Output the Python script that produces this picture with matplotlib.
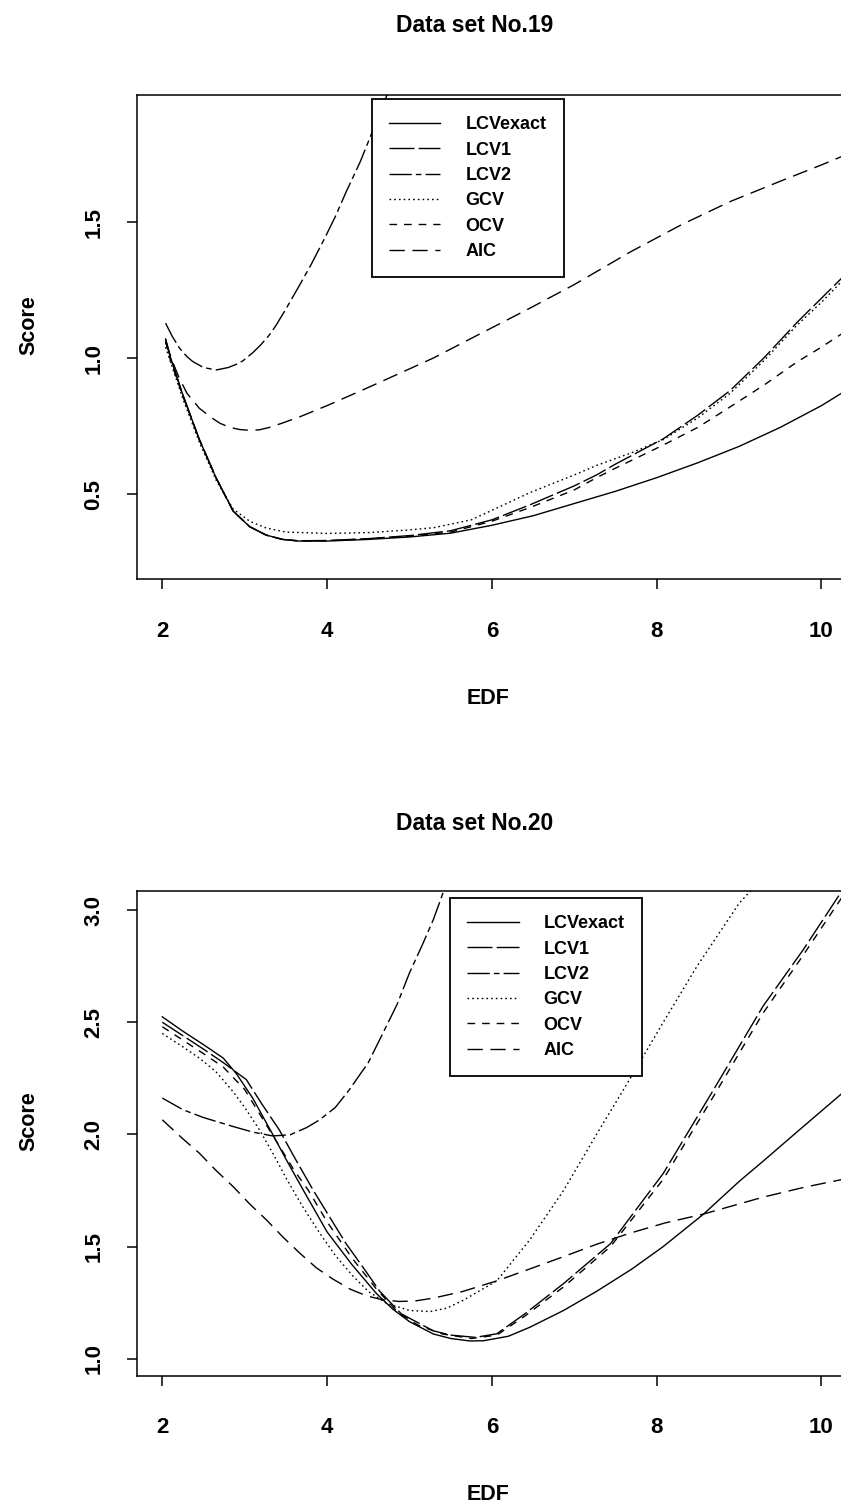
import matplotlib
matplotlib.use("Agg")
import matplotlib.pyplot as plt

plt.rcParams['font.family'] = ['Liberation Sans', 'DejaVu Sans']
plt.rcParams['font.weight'] = 'bold'
plt.rcParams['lines.scale_dashes'] = False

# ---- data set No.19 ----
x19_exact = [2.04, 2.1, 2.25, 2.45, 2.655, 2.86, 3.06, 3.26, 3.46, 3.65, 4.0, 4.5, 5.0, 5.5, 6.0,
             6.5, 7.0, 7.5, 8.0, 8.5, 9.0, 9.5, 10.0, 10.4]
y19_exact = [1.07, 1.0, 0.864, 0.70, 0.558, 0.437, 0.38, 0.349, 0.333, 0.327, 0.327, 0.333, 0.342,
             0.356, 0.385, 0.42, 0.465, 0.51, 0.56, 0.615, 0.675, 0.745, 0.825, 0.90]
x19_lcv1 = [2.04, 2.1, 2.25, 2.45, 2.655, 2.86, 3.06, 3.26, 3.46, 3.65, 4.0, 4.5, 5.0, 5.5, 6.0,
            6.46, 7.0, 7.27, 7.5, 8.08, 8.5, 8.89, 9.3, 9.7, 10.0, 10.4]
y19_lcv1 = [1.07, 1.0, 0.864, 0.70, 0.558, 0.437, 0.38, 0.349, 0.333, 0.328, 0.329, 0.336, 0.347,
            0.365, 0.405, 0.46, 0.53, 0.57, 0.61, 0.703, 0.79, 0.88, 1.0, 1.13, 1.22, 1.34]
x19_lcv2 = [2.04, 2.12, 2.21, 2.3, 2.37, 2.5, 2.655, 2.8, 2.9, 2.98, 3.1, 3.2, 3.3, 3.38, 3.5,
            3.67, 3.8, 3.97, 4.1, 4.23, 4.4, 4.52, 4.65, 4.8]
y19_lcv2 = [1.128, 1.08, 1.036, 1.005, 0.987, 0.965, 0.956, 0.965, 0.977, 0.99, 1.02, 1.05, 1.085,
            1.12, 1.18, 1.27, 1.34, 1.44, 1.52, 1.61, 1.72, 1.81, 1.91, 2.02]
x19_gcv = [2.04, 2.25, 2.45, 2.655, 2.86, 3.06, 3.26, 3.5, 4.0, 4.5, 5.0, 5.29, 5.75, 6.0, 6.46,
           7.0, 7.27, 7.68, 8.08, 8.5, 8.89, 9.3, 9.7, 10.0, 10.4]
y19_gcv = [1.04, 0.85, 0.69, 0.55, 0.445, 0.40, 0.375, 0.36, 0.355, 0.358, 0.368, 0.376, 0.405,
           0.44, 0.505, 0.57, 0.605, 0.65, 0.70, 0.78, 0.87, 0.99, 1.12, 1.205, 1.33]
x19_ocv = [2.04, 2.1, 2.25, 2.45, 2.655, 2.86, 3.06, 3.26, 3.46, 3.65, 4.0, 4.5, 5.0, 5.5, 6.0,
           6.46, 7.0, 7.27, 7.5, 8.08, 8.5, 8.89, 9.3, 9.7, 10.0, 10.4]
y19_ocv = [1.06, 0.99, 0.86, 0.70, 0.558, 0.437, 0.38, 0.349, 0.333, 0.328, 0.328, 0.335, 0.345,
           0.36, 0.40, 0.45, 0.515, 0.56, 0.595, 0.68, 0.745, 0.82, 0.90, 0.985, 1.04, 1.12]
x19_aic = [2.04, 2.12, 2.2, 2.3, 2.45, 2.6, 2.7, 2.82, 2.94, 3.06, 3.18, 3.3, 3.45, 3.67, 4.0,
           4.48, 5.0, 5.29, 5.8, 6.46, 7.0, 7.68, 8.3, 8.89, 9.5, 10.0, 10.4]
y19_aic = [1.06, 0.99, 0.93, 0.87, 0.815, 0.78, 0.76, 0.745, 0.737, 0.734, 0.736, 0.745, 0.76,
           0.784, 0.825, 0.889, 0.96, 1.0, 1.08, 1.183, 1.27, 1.39, 1.49, 1.575, 1.65, 1.71, 1.76]

# ---- data set No.20 ----
x20_exact = [2.0, 2.25, 2.5, 2.74, 2.9, 3.1, 3.34, 3.5, 3.71, 4.0, 4.3, 4.6, 4.8, 5.0, 5.29, 5.5,
             5.73, 5.9, 6.2, 6.46, 6.87, 7.27, 7.7, 8.08, 8.57, 9.0, 9.29, 9.7, 10.4]
y20_exact = [2.524, 2.46, 2.40, 2.34, 2.27, 2.16, 2.00, 1.89, 1.752, 1.565, 1.42, 1.29, 1.22,
             1.165, 1.11, 1.09, 1.079, 1.08, 1.10, 1.14, 1.215, 1.30, 1.40, 1.50, 1.645, 1.79,
             1.88, 2.01, 2.23]
x20_lcv1 = [2.0, 2.25, 2.5, 2.74, 3.02, 3.2, 3.42, 3.6, 3.83, 4.0, 4.23, 4.45, 4.64, 4.9, 5.29,
            5.5, 5.8, 6.06, 6.4, 6.87, 7.44, 8.08, 8.69, 9.29, 9.78, 10.4]
y20_lcv1 = [2.50, 2.44, 2.38, 2.32, 2.244, 2.14, 2.02, 1.90, 1.752, 1.65, 1.513, 1.40, 1.30, 1.20,
            1.124, 1.105, 1.095, 1.111, 1.20, 1.335, 1.513, 1.826, 2.199, 2.571, 2.824, 3.17]
x20_lcv2 = [2.0, 2.25, 2.5, 2.86, 3.1, 3.34, 3.55, 3.75, 3.91, 4.1, 4.27, 4.5, 4.68, 4.85, 5.0,
            5.15, 5.29, 5.45]
y20_lcv2 = [2.162, 2.11, 2.075, 2.035, 2.01, 1.993, 1.998, 2.03, 2.065, 2.12, 2.199, 2.32, 2.453,
            2.58, 2.72, 2.84, 2.958, 3.12]
x20_gcv = [2.0, 2.25, 2.45, 2.65, 2.86, 3.0, 3.18, 3.35, 3.51, 3.7, 3.91, 4.1, 4.31, 4.5, 4.72,
           5.0, 5.25, 5.45, 5.65, 6.06, 6.46, 6.87, 7.27, 7.68, 8.08, 8.49, 9.0, 9.3]
y20_gcv = [2.45, 2.39, 2.34, 2.28, 2.19, 2.12, 2.02, 1.91, 1.80, 1.68, 1.56, 1.46, 1.37, 1.30,
           1.247, 1.215, 1.21, 1.225, 1.26, 1.347, 1.53, 1.75, 2.0, 2.25, 2.50, 2.75, 3.03, 3.15]
x20_ocv = [2.0, 2.25, 2.5, 2.74, 3.0, 3.2, 3.4, 3.6, 3.77, 4.0, 4.3, 4.6, 4.85, 5.1, 5.4, 5.75,
           6.06, 6.4, 6.87, 7.44, 8.08, 8.69, 9.29, 9.78, 10.4]
y20_ocv = [2.48, 2.42, 2.36, 2.30, 2.20, 2.08, 1.96, 1.84, 1.752, 1.61, 1.45, 1.31, 1.21, 1.15,
           1.11, 1.09, 1.105, 1.19, 1.32, 1.50, 1.80, 2.17, 2.54, 2.80, 3.14]
x20_aic = [2.0, 2.25, 2.45, 2.65, 2.86, 3.06, 3.26, 3.47, 3.67, 3.87, 4.07, 4.28, 4.48, 4.68, 4.88,
           5.08, 5.29, 5.65, 6.06, 6.46, 6.87, 7.27, 7.68, 8.1, 8.57, 9.29, 9.8, 10.4]
y20_aic = [2.065, 1.98, 1.916, 1.84, 1.767, 1.69, 1.62, 1.54, 1.47, 1.405, 1.355, 1.31, 1.28,
           1.262, 1.255, 1.258, 1.27, 1.30, 1.347, 1.40, 1.455, 1.51, 1.56, 1.605, 1.645, 1.72,
           1.765, 1.81]

labels = ['LCVexact', 'LCV1', 'LCV2', 'GCV', 'OCV', 'AIC']
styles = ['-', (0, (18, 3)), (0, (16, 3, 4, 3)), (0, (1.2, 2.2)), (0, (5.5, 5)), (0, (11, 5.5))]

panels = [
    dict(title='Data set No.19', ylim=(0.1875, 1.967), yticks=[0.5, 1.0, 1.5],
         xs=[x19_exact, x19_lcv1, x19_lcv2, x19_gcv, x19_ocv, x19_aic],
         ys=[y19_exact, y19_lcv1, y19_lcv2, y19_gcv, y19_ocv, y19_aic]),
    dict(title='Data set No.20', ylim=(0.925, 3.085), yticks=[1.0, 1.5, 2.0, 2.5, 3.0],
         xs=[x20_exact, x20_lcv1, x20_lcv2, x20_gcv, x20_ocv, x20_aic],
         ys=[y20_exact, y20_lcv1, y20_lcv2, y20_gcv, y20_ocv, y20_aic]),
]

W, H = 841, 1511
fig = plt.figure(figsize=(W / 100, H / 100), dpi=100)

xlim = (1.687, 10.5)
ax_left = 136.5
ax_w = (xlim[1] - xlim[0]) * 82.4
# (top px, bottom px) of each plot box, title centre px, legend top-left px
boxes = [(95, 579, 25, (371.7, 99.3)), (891, 1375.5, 824, (450, 898.3))]

for p, (top, bot, ty, (lx, ly)) in zip(panels, boxes):
    ax = fig.add_axes([ax_left / W, 1 - bot / H, ax_w / W, (bot - top) / H])
    for xv, yv, ls, lab in zip(p['xs'], p['ys'], styles, labels):
        ax.plot(xv, yv, color='black', lw=1.0, linestyle=ls, label=lab)
    ax.set_xlim(*xlim)
    ax.set_ylim(*p['ylim'])
    ax.set_xticks([2, 4, 6, 8, 10])
    ax.set_yticks(p['yticks'])
    ax.set_yticklabels([f'{v:.1f}' for v in p['yticks']], rotation=90, va='center')
    ax.tick_params(direction='out', length=7, width=1.1, labelsize=16, pad=0)
    ax.tick_params(axis='x', pad=23)
    ax.tick_params(axis='y', pad=16)
    for s in ax.spines.values():
        s.set_linewidth(1.1)

    ax.set_xlabel('EDF', fontsize=15.5, fontweight='bold', va='center')
    ax.xaxis.set_label_coords((488 - ax_left) / ax_w, -(698 - 579) / (579 - 95))
    ax.set_ylabel('Score', fontsize=15.5, fontweight='bold', va='center')
    ax.yaxis.set_label_coords((28.5 - ax_left) / ax_w, 0.525)

    fig.text(475 / W, 1 - ty / H, p['title'], ha='center', va='center',
             fontsize=16.5, fontweight='bold')

    leg = ax.legend(loc='upper left',
                    bbox_to_anchor=((lx - ax_left) / ax_w, 1 - (ly - top) / (bot - top)),
                    borderaxespad=0, borderpad=0.95, handlelength=2.86, handletextpad=1.38,
                    labelspacing=0.46, fontsize=13, fancybox=False, framealpha=1,
                    edgecolor='black')
    leg.get_frame().set_linewidth(1.3)

fig.savefig('out.png', dpi=100)
